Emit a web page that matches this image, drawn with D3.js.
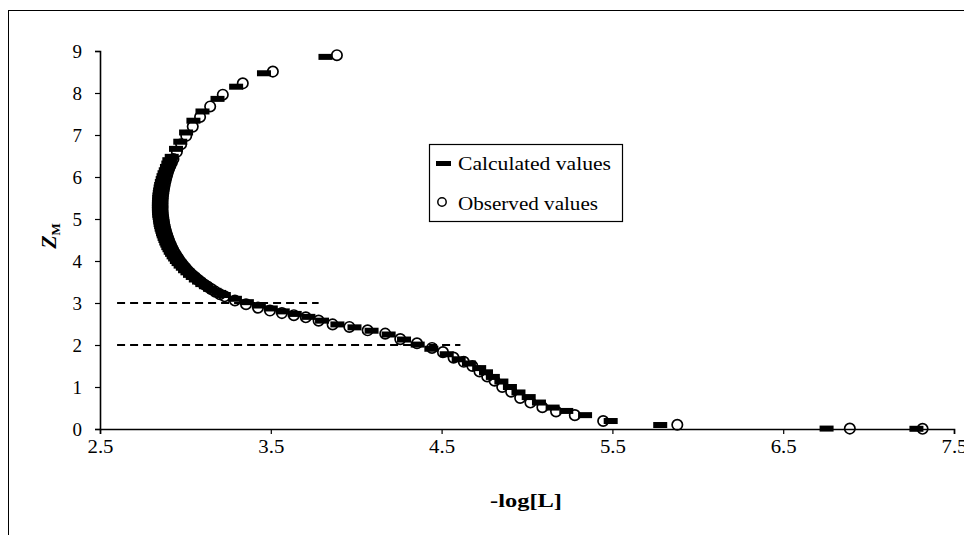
<!DOCTYPE html>
<html>
<head>
<meta charset="utf-8">
<script src="https://cdn.jsdelivr.net/npm/d3@7"></script>
<style>
  body { margin: 0; background: #fff; }
  text { font-family: "Liberation Serif", "Times New Roman", serif; fill: #000; }
</style>
</head>
<body>
<div id="chart"></div>
<script>
// observed points: -log[L] and Z_M
const obsX = [3.887, 3.512, 3.336, 3.219, 3.145, 3.086, 3.043, 3.005, 2.975, 2.950,
  2.930, 2.921, 2.912, 2.905, 2.898, 2.893, 2.888, 2.884, 2.880, 2.877,
  2.874, 2.872, 2.870, 2.868, 2.867, 2.866, 2.866, 2.866, 2.866, 2.866,
  2.867, 2.868, 2.870, 2.872, 2.874, 2.876, 2.879, 2.882, 2.886, 2.890,
  2.894, 2.899, 2.904, 2.909, 2.915, 2.921, 2.928, 2.935, 2.943, 2.951,
  2.960, 2.970, 2.980, 2.991, 3.002, 3.015, 3.028, 3.043, 3.058, 3.075,
  3.092, 3.111, 3.130, 3.152, 3.175, 3.202, 3.230, 3.290,
  3.355, 3.425, 3.495, 3.565, 3.635, 3.705, 3.780, 3.862, 3.960, 4.067,
  4.170, 4.258, 4.356, 4.444, 4.508, 4.570, 4.630, 4.680, 4.722, 4.767,
  4.810, 4.855, 4.907, 4.960, 5.020, 5.090, 5.170, 5.280, 5.446, 5.880,
  6.890, 7.316];
const obsZ = [8.90, 8.51, 8.23, 7.96, 7.68, 7.43, 7.20, 6.98, 6.78, 6.60,
  6.43, 6.35, 6.27, 6.20, 6.12, 6.05, 5.98, 5.91, 5.85, 5.78,
  5.72, 5.66, 5.60, 5.54, 5.48, 5.42, 5.37, 5.31, 5.26, 5.20,
  5.15, 5.09, 5.04, 4.98, 4.93, 4.87, 4.82, 4.76, 4.71, 4.65,
  4.60, 4.54, 4.49, 4.43, 4.38, 4.32, 4.27, 4.21, 4.16, 4.10,
  4.05, 3.99, 3.94, 3.88, 3.83, 3.77, 3.72, 3.66, 3.61, 3.55,
  3.50, 3.44, 3.39, 3.33, 3.27, 3.21, 3.16, 3.06,
  2.97, 2.89, 2.82, 2.76, 2.71, 2.66, 2.58, 2.49, 2.43, 2.35,
  2.27, 2.14, 2.04, 1.93, 1.83, 1.70, 1.60, 1.50, 1.37, 1.25,
  1.15, 1.00, 0.89, 0.74, 0.63, 0.52, 0.42, 0.33, 0.19, 0.10,
  0.01, 0.005];

// calculated points
const calcX = [3.820, 3.460, 3.297, 3.188, 3.100, 3.047, 3.004, 2.970, 2.945, 2.920,
  2.906, 2.900, 2.892, 2.885, 2.878, 2.872, 2.867, 2.862, 2.858, 2.855,
  2.852, 2.850, 2.848, 2.847, 2.846, 2.845, 2.845, 2.845, 2.845, 2.846,
  2.847, 2.849, 2.851, 2.853, 2.855, 2.858, 2.861, 2.865, 2.869, 2.873,
  2.878, 2.883, 2.888, 2.894, 2.900, 2.907, 2.914, 2.922, 2.931, 2.940,
  2.950, 2.960, 2.972, 2.985, 2.998, 3.012, 3.027, 3.043, 3.061, 3.080,
  3.099, 3.120, 3.144, 3.170, 3.197, 3.225, 3.290, 3.360,
  3.430, 3.500, 3.570, 3.640, 3.720, 3.800, 3.890, 3.990, 4.090, 4.190,
  4.280, 4.360, 4.440, 4.530, 4.600, 4.660, 4.720, 4.760, 4.800, 4.850,
  4.900, 4.950, 5.010, 5.070, 5.150, 5.230, 5.340, 5.490, 5.780, 6.754,
  7.280];
const calcZ = [8.86, 8.47, 8.15, 7.86, 7.56, 7.34, 7.06, 6.84, 6.67, 6.48,
  6.40, 6.32, 6.24, 6.16, 6.09, 6.02, 5.95, 5.88, 5.81, 5.75,
  5.68, 5.62, 5.56, 5.50, 5.44, 5.38, 5.33, 5.27, 5.22, 5.16,
  5.10, 5.05, 4.99, 4.94, 4.88, 4.83, 4.77, 4.72, 4.66, 4.61,
  4.55, 4.50, 4.44, 4.39, 4.33, 4.28, 4.22, 4.17, 4.11, 4.06,
  4.00, 3.95, 3.89, 3.84, 3.78, 3.73, 3.67, 3.62, 3.56, 3.51,
  3.45, 3.40, 3.34, 3.29, 3.24, 3.19, 3.10, 3.02,
  2.94, 2.87, 2.80, 2.74, 2.67, 2.58, 2.49, 2.42, 2.34, 2.25,
  2.13, 2.01, 1.91, 1.78, 1.66, 1.56, 1.45, 1.35, 1.24, 1.13,
  1.00, 0.87, 0.76, 0.63, 0.51, 0.43, 0.33, 0.19, 0.095, 0.01,
  0.005];

// dashed reference levels
const refZ = [3, 2];
const refFrom = [2.6, 2.6];
const refTo = [3.78, 4.61];

const xTicks = [2.5, 3.5, 4.5, 5.5, 6.5, 7.5];
const yTicks = [0, 1, 2, 3, 4, 5, 6, 7, 8, 9];
const legendLabels = ["Calculated values", "Observed values"];

const W = 964, H = 535;
const margin = { top: 51, right: 10, bottom: 106, left: 100 };
const width = 954 - margin.left, height = 429 - margin.top;

const svg = d3.select("#chart").append("svg")
    .attr("width", W)
    .attr("height", H);

// outer frame (runs off the right/bottom edges)
svg.append("rect")
    .attr("x", 8.5).attr("y", 10.5)
    .attr("width", 1000).attr("height", 600)
    .attr("fill", "none").attr("stroke", "#000").attr("stroke-width", 1);

const g = svg.append("g")
    .attr("transform", `translate(${margin.left},${margin.top})`);

const x = d3.scaleLinear().domain([2.5, 7.5]).range([0, width]);
const y = d3.scaleLinear().domain([0, 9]).range([height, 0]);

const xAxis = g.append("g")
    .attr("transform", `translate(0,${height})`)
    .call(d3.axisBottom(x).tickValues(xTicks).tickFormat(d3.format(".1f")).tickSize(5).tickPadding(6));
const yAxis = g.append("g")
    .call(d3.axisLeft(y).tickValues(yTicks).tickFormat(d3.format("d")).tickSize(5).tickPadding(13));

[xAxis, yAxis].forEach(a => {
    a.select(".domain").attr("stroke", "#000").attr("stroke-width", 1.6);
    a.selectAll(".tick line").attr("stroke", "#000").attr("stroke-width", 1.2);
    a.selectAll(".tick text")
        .style("font-family", '"Liberation Serif", serif')
        .style("font-size", "19px")
        .attr("fill", "#000");
});
xAxis.selectAll(".tick text").attr("textLength", 26).attr("lengthAdjust", "spacingAndGlyphs");

// dashed levels
g.selectAll(".ref")
    .data(refZ)
    .enter().append("line")
    .attr("x1", (d, i) => x(refFrom[i]))
    .attr("x2", (d, i) => x(refTo[i]))
    .attr("y1", d => y(d))
    .attr("y2", d => y(d))
    .attr("stroke", "#000")
    .attr("stroke-width", 2)
    .attr("stroke-dasharray", "8,5");

// calculated values: short thick bars
g.selectAll(".calc")
    .data(calcX)
    .enter().append("rect")
    .attr("x", d => x(d) - 7)
    .attr("y", (d, i) => y(calcZ[i]) - 3)
    .attr("width", 14)
    .attr("height", 6)
    .attr("fill", "#000");

// observed values: open circles
g.selectAll(".obs")
    .data(obsX)
    .enter().append("circle")
    .attr("cx", d => x(d))
    .attr("cy", (d, i) => y(obsZ[i]))
    .attr("r", 5.2)
    .attr("fill", "none")
    .attr("stroke", "#000")
    .attr("stroke-width", 1.7);

// axis titles
svg.append("text")
    .attr("x", 526).attr("y", 507)
    .attr("text-anchor", "middle")
    .attr("textLength", 72)
    .attr("lengthAdjust", "spacingAndGlyphs")
    .style("font-size", "19px")
    .style("font-weight", "bold")
    .text("-log[L]");

const yt = svg.append("text")
    .attr("transform", "translate(56,236) rotate(-90)")
    .attr("text-anchor", "middle")
    .style("font-size", "22px")
    .style("font-weight", "bold");
yt.append("tspan").style("font-style", "italic").text("Z");
yt.append("tspan").attr("dy", 4).style("font-size", "13px").text("M");

// legend
const legend = svg.append("g").attr("transform", "translate(429,144)");
legend.append("rect")
    .attr("x", 0.5).attr("y", 0.5)
    .attr("width", 193).attr("height", 77)
    .attr("fill", "#fff").attr("stroke", "#000").attr("stroke-width", 1.2);
legend.append("rect")
    .attr("x", 7).attr("y", 17)
    .attr("width", 15).attr("height", 5)
    .attr("fill", "#000");
legend.append("circle")
    .attr("cx", 13).attr("cy", 58)
    .attr("r", 4.2)
    .attr("fill", "none").attr("stroke", "#000").attr("stroke-width", 1.5);
legend.selectAll(".lt")
    .data(legendLabels)
    .enter().append("text")
    .attr("x", 29)
    .attr("y", (d, i) => 19 + i * 40)
    .attr("dy", "0.35em")
    .attr("textLength", (d, i) => i === 0 ? 153 : 140)
    .attr("lengthAdjust", "spacingAndGlyphs")
    .style("font-size", "19px")
    .text(d => d);
</script>
</body>
</html>
